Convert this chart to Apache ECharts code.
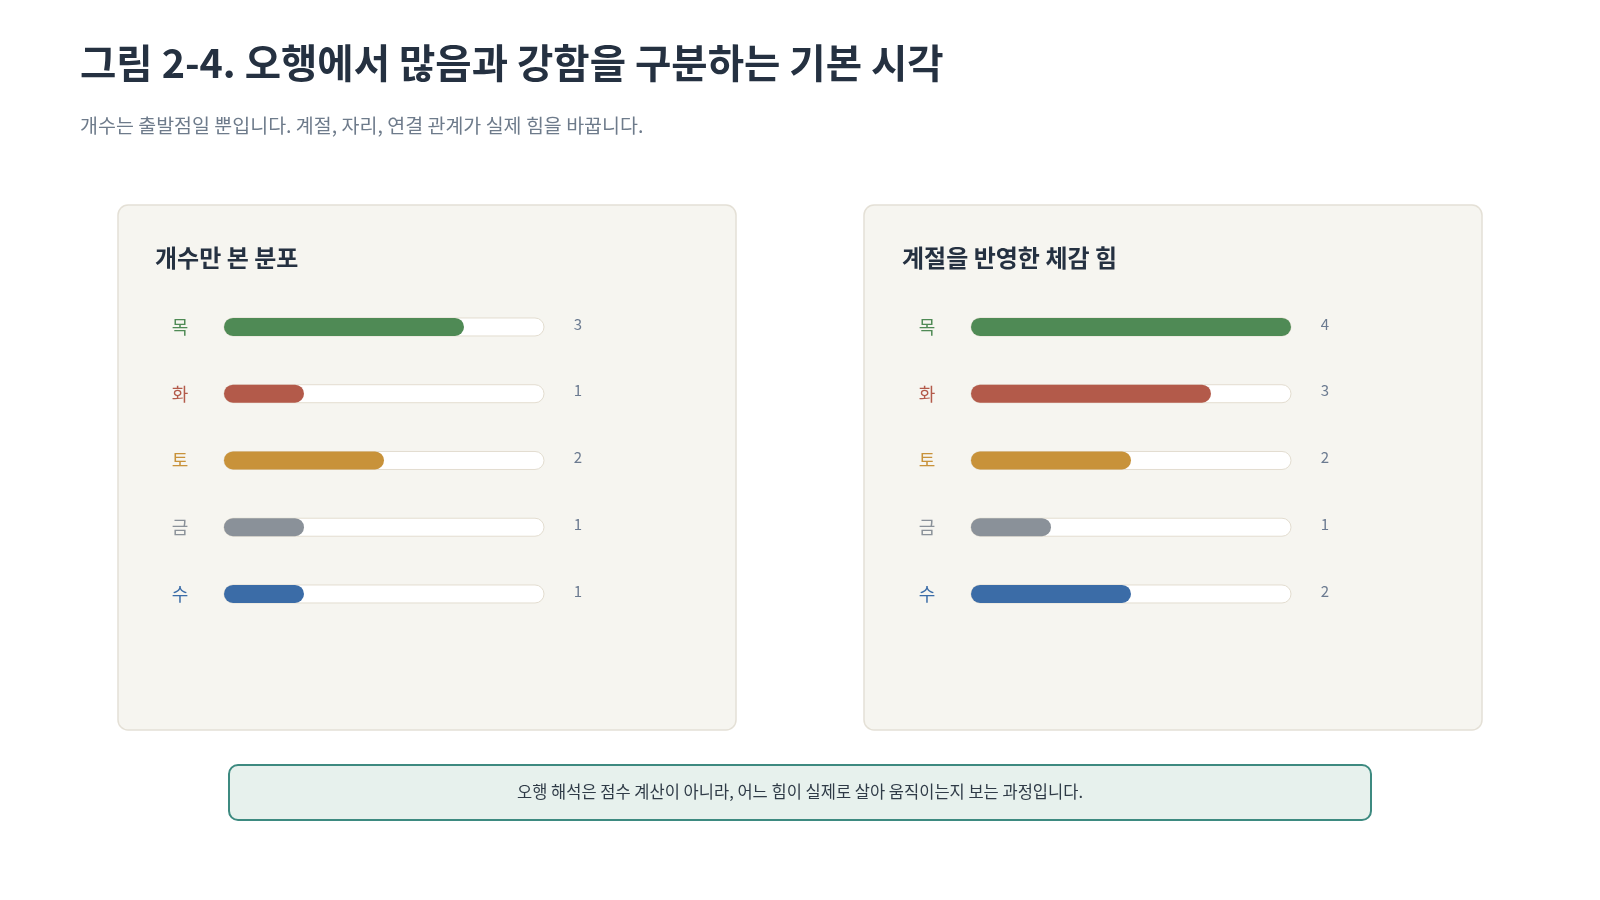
<!DOCTYPE html>
<html>
<head>
<meta charset="utf-8">
<script src="https://cdn.jsdelivr.net/npm/echarts@6/dist/echarts.min.js"></script>
<style>
  html, body { margin: 0; padding: 0; background: #ffffff; }
  #chart { width: 1600px; height: 900px; }
</style>
</head>
<body>
<div id="chart"></div>
<script>
// 오행 데이터
const elements = ["목", "화", "토", "금", "수"];
const elementColors = ["#4f8a55", "#b35a4a", "#c8923a", "#8a9199", "#3b6ca7"];
const countValues = [3, 1, 2, 1, 1];     // 개수만 본 분포
const seasonValues = [4, 3, 2, 1, 2];    // 계절을 반영한 체감 힘
const maxValue = 4;

const FONT = "'Noto Sans CJK KR', 'Noto Sans', sans-serif";

const chart = echarts.init(document.getElementById("chart"));

function panelRect(x) {
  return {
    type: "rect",
    shape: { x: x, y: 205, width: 618, height: 525, r: 10 },
    style: { fill: "#f6f5f0", stroke: "#e4e0d6", lineWidth: 1.5 },
    z: 0
  };
}

function panelTitle(x, text) {
  return {
    type: "text",
    x: x, y: 258,
    style: {
      text: text, font: "bold 24px " + FONT, fill: "#253141",
      textVerticalAlign: "middle"
    },
    z: 1
  };
}

// 그리드 하나당 y축 두 개 (왼쪽: 오행 이름, 오른쪽: 값)
function makeAxes(gridIndex, values) {
  return [
    {
      type: "category", gridIndex: gridIndex, data: elements, inverse: true,
      axisLine: { show: false }, axisTick: { show: false },
      axisLabel: {
        margin: 44, align: "center", fontSize: 18, fontFamily: FONT,
        color: (v, i) => elementColors[i]
      }
    },
    {
      type: "category", gridIndex: gridIndex, position: "right", inverse: true,
      data: values.map(String),
      axisLine: { show: false }, axisTick: { show: false },
      axisLabel: {
        margin: 34, align: "center", verticalAlign: "bottom", lineHeight: 6,
        fontSize: 15, fontFamily: FONT, color: "#6b7a90"
      }
    }
  ];
}

function makeSeries(gridIndex, values) {
  return {
    type: "bar",
    xAxisIndex: gridIndex,
    yAxisIndex: gridIndex * 2,
    barWidth: 18,
    showBackground: true,
    backgroundStyle: {
      color: "#ffffff", borderColor: "#e3ddd0", borderWidth: 1, borderRadius: 9
    },
    itemStyle: { borderRadius: 9 },
    data: values.map((v, i) => ({ value: v, itemStyle: { color: elementColors[i] } })),
    silent: true,
    z: 3
  };
}

const option = {
  animation: false,
  grid: [
    { left: 224, width: 320, top: 293.6, height: 333.75 },
    { left: 971, width: 320, top: 293.6, height: 333.75 }
  ],
  xAxis: [0, 1].map(g => ({
    type: "value", gridIndex: g, min: 0, max: maxValue, show: false
  })),
  yAxis: [...makeAxes(0, countValues), ...makeAxes(1, seasonValues)],
  series: [makeSeries(0, countValues), makeSeries(1, seasonValues)],
  graphic: [
    {
      type: "text", x: 80, y: 63,
      style: {
        text: "그림 2-4. 오행에서 많음과 강함을 구분하는 기본 시각",
        font: "bold 39.5px " + FONT, fill: "#253141", textVerticalAlign: "middle"
      }
    },
    {
      type: "text", x: 80, y: 126,
      style: {
        text: "개수는 출발점일 뿐입니다. 계절, 자리, 연결 관계가 실제 힘을 바꿉니다.",
        font: "19.5px " + FONT, fill: "#6e7b8b", textVerticalAlign: "middle"
      }
    },
    panelRect(118),
    panelRect(864),
    panelTitle(155, "개수만 본 분포"),
    panelTitle(902, "계절을 반영한 체감 힘"),
    {
      type: "rect",
      shape: { x: 229, y: 765, width: 1142, height: 55, r: 9 },
      style: { fill: "#e7f1ed", stroke: "#3d8a80", lineWidth: 2 }
    },
    {
      type: "text", x: 800, y: 792,
      style: {
        text: "오행 해석은 점수 계산이 아니라, 어느 힘이 실제로 살아 움직이는지 보는 과정입니다.",
        font: "16.5px " + FONT, fill: "#2f3b47",
        textAlign: "center", textVerticalAlign: "middle"
      }
    }
  ]
};

chart.setOption(option);
window.onresize = function () {
  chart.resize();
};
</script>
</body>
</html>
